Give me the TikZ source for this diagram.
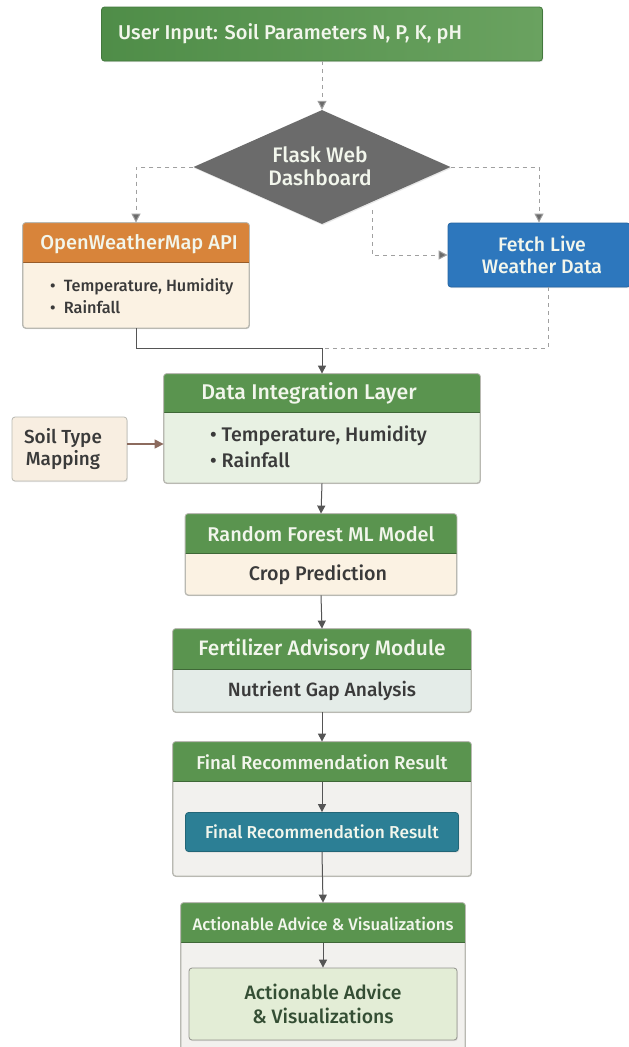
\documentclass[tikz,border=0pt]{standalone}
\usepackage{fontspec}
\setmainfont{Fira Sans}[UprightFont={* Medium}]
\usetikzlibrary{shapes.geometric,arrows.meta,calc,shadows}
\definecolor{hgreen}{HTML}{5A944F}
\definecolor{topgreenL}{HTML}{4F8D48}
\definecolor{topgreenR}{HTML}{6AA260}
\definecolor{dgray}{HTML}{6B6B6B}
\definecolor{horange}{HTML}{D8843A}
\definecolor{bcream}{HTML}{FBF2E3}
\definecolor{fblue}{HTML}{2D77BD}
\definecolor{bgreen}{HTML}{E8F1E3}
\definecolor{soilfill}{HTML}{F8EEE1}
\definecolor{soilarrow}{HTML}{8C6B5E}
\definecolor{bgrey}{HTML}{E4ECE8}
\definecolor{bfinal}{HTML}{F2F1EE}
\definecolor{teal}{HTML}{2C7F95}
\definecolor{bact}{HTML}{E3EDD6}
\definecolor{txtdark}{HTML}{3A3A3A}
\definecolor{txtlight}{HTML}{F2F6EC}
\definecolor{arrowgray}{HTML}{555555}
\definecolor{dashgray}{HTML}{A0A0A0}
\definecolor{bordergray}{HTML}{B9B9B2}
\newcommand\fsz[1]{\fontsize{#1}{#1}\selectfont}
\newcommand\splitbox[8]{%
  \node[sbox, fill=#8, minimum width=#4, minimum height=#5] (#1) at (#2,#3) {};
  \fill[#7, rounded corners=3pt] (#1.north west) rectangle ($(#1.north east)+(0,#6)$);
  \fill[#7] ($(#1.north west)+(0,#6/2)$) rectangle ($(#1.north east)+(0,#6)$);
  \draw[#7!70!black, line width=0.8pt] ($(#1.north west)+(0,#6)$) -- ($(#1.north east)+(0,#6)$);
  \draw[bordergray, line width=0.8pt, rounded corners=3pt] (#1.north west) rectangle (#1.south east);
}
\tikzset{
  sbox/.style={rectangle, rounded corners=3pt, inner sep=0pt, draw=bordergray, line width=0.8pt,
    drop shadow={opacity=0.18, shadow xshift=0.8pt, shadow yshift=-1.2pt}},
  plainbox/.style={rectangle, rounded corners=3pt, inner sep=0pt, line width=0.8pt,
    drop shadow={opacity=0.18, shadow xshift=0.8pt, shadow yshift=-1.2pt}},
  htext/.style={text=txtlight, inner sep=0pt, align=center},
  btext/.style={text=txtdark, inner sep=0pt, align=center},
  arr/.style={draw=arrowgray, line width=1pt, -{Triangle[length=8pt,width=8pt]}},
  darr/.style={draw=dashgray, line width=1pt, dash pattern=on 4pt off 4pt, -{Triangle[length=9pt,width=9pt,fill=dgray]}},
  dline/.style={draw=dashgray, line width=1pt, dash pattern=on 4pt off 4pt},
}
\begin{document}
\begin{tikzpicture}[x=1pt,y=-1pt]
\useasboundingbox (0,0) rectangle (629,1047);
\fill[white] (0,0) rectangle (629,1047);

% top input box
\node[plainbox, left color=topgreenL, right color=topgreenR, draw=topgreenL!85!black, minimum width=441, minimum height=54] (input) at (322,34) {};
\node[htext, anchor=west, font=\fsz{20}] (inputtxt) at (118,34) {User Input: Soil Parameters N, P, K, pH};

% diamond
\node[diamond, fill=dgray, minimum width=257, minimum height=114, inner sep=0pt,
  drop shadow={opacity=0.18, shadow xshift=0.8pt, shadow yshift=-1.2pt}] (flask) at (322,167) {};
\node[htext, font=\fsz{21}, align=center] (flasktxt) at (320,166) {Flask Web\\[2pt]Dashboard};

% OpenWeatherMap box
\splitbox{owm}{136}{275.5}{226}{105}{40}{horange}{bcream}
\node[htext, font=\fsz{20}] (owmh) at ($(owm.north)+(3,22)$) {OpenWeatherMap API};
\node[btext, anchor=west, align=left, font=\fsz{16.3}] (owmb) at (50,296) {\textbullet\ \ Temperature, Humidity\\[5pt]\textbullet\ \ Rainfall};

% Fetch box
\node[plainbox, fill=fblue, draw=fblue!85!black, minimum width=182, minimum height=64] (fetch) at (539,255) {};
\node[htext, font=\fsz{19.5}] (fetchtxt) at (542,255) {Fetch Live\\[3pt]Weather Data};

% connectors top
\coordinate (jn) at (322,348);
\draw[darr] (input.south) -- (flask.north);
\draw[darr] (flask.west) -| (owm.north);
\draw[darr] (flask.east) -| (fetch.north);
\coordinate (fs) at (372,210);
\draw[darr] (fs) |- (fetch.west);
\draw[draw=arrowgray, line width=1pt] (owm.south) |- (jn);
\draw[dline] (fetch.south -| 548,0) |- (jn);

% Data integration
\splitbox{dil}{322}{428.5}{316}{109}{39}{hgreen}{bgreen}
\node[htext, font=\fsz{21.3}] (dilh) at ($(dil.north)+(-13,20)$) {Data Integration Layer};
\node[btext, anchor=west, align=left, font=\fsz{19.7}] (dilb) at (210,447) {\textbullet\ Temperature, Humidity\\[5pt]\textbullet\ Rainfall};
\draw[arr] (jn) -- (dil.north);

% soil type
\node[plainbox, fill=soilfill, draw=bordergray, minimum width=115, minimum height=64] (soil) at (69.5,449) {};
\node[btext, font=\fsz{18.9}] (soiltxt) at (63,449) {Soil Type\\[2pt]Mapping};
\draw[draw=soilarrow, line width=1.2pt, -{Triangle[length=9pt,width=9pt]}] (soil.east |- 0,444) -- (dil.west |- 0,444);

% Random forest
\splitbox{rf}{321}{554.5}{271}{81}{40}{hgreen}{bcream}
\node[htext, font=\fsz{19.9}] (rfh) at ($(rf.north)+(0,21)$) {Random Forest ML Model};
\node[btext, font=\fsz{19.7}] (rfb) at ($(rf.north)+(-3,61)$) {Crop Prediction};
\draw[arr] (dil.south) -- (rf.north);

% Fertilizer
\splitbox{fert}{322}{670.5}{298}{83}{41}{hgreen}{bgrey}
\node[htext, font=\fsz{20.9}] (ferth) at ($(fert.north)+(0,21)$) {Fertilizer Advisory Module};
\node[btext, font=\fsz{19.2}] (fertb) at ($(fert.north)+(0,62)$) {Nutrient Gap Analysis};
\draw[arr] (rf.south) -- (fert.north);

% Final
\splitbox{fin}{322}{809}{298}{134}{40}{hgreen}{bfinal}
\node[htext, font=\fsz{18.6}] (finh) at ($(fin.north)+(0,21)$) {Final Recommendation Result};
\node[plainbox, fill=teal, draw=teal!80!black, minimum width=273, minimum height=39] (finin) at (322,832) {};
\node[htext, font=\fsz{17.3}] (finintxt) at (finin) {Final Recommendation Result};
\draw[arr] (fert.south) -- (fin.north);
\draw[arr] ($(fin.north)+(0,40)$) -- (finin.north);

% Actionable
\splitbox{act}{323}{978}{284}{150}{40}{hgreen}{bfinal}
\node[htext, font=\fsz{16.7}] (acth) at ($(act.north)+(0,21)$) {Actionable Advice \& Visualizations};
\node[plainbox, fill=bact, draw=bordergray!80!black, minimum width=268, minimum height=72] (actin) at (323,1004) {};
\node[btext, font=\fsz{19.4}, text=txtdark!90!green] (actintxt) at (323,1004) {Actionable Advice\\[4pt]\& Visualizations};
\draw[arr] (finin.south) -- (act.north);
\draw[arr] ($(act.north)+(0,40)$) -- (actin.north);
\end{tikzpicture}
\end{document}
